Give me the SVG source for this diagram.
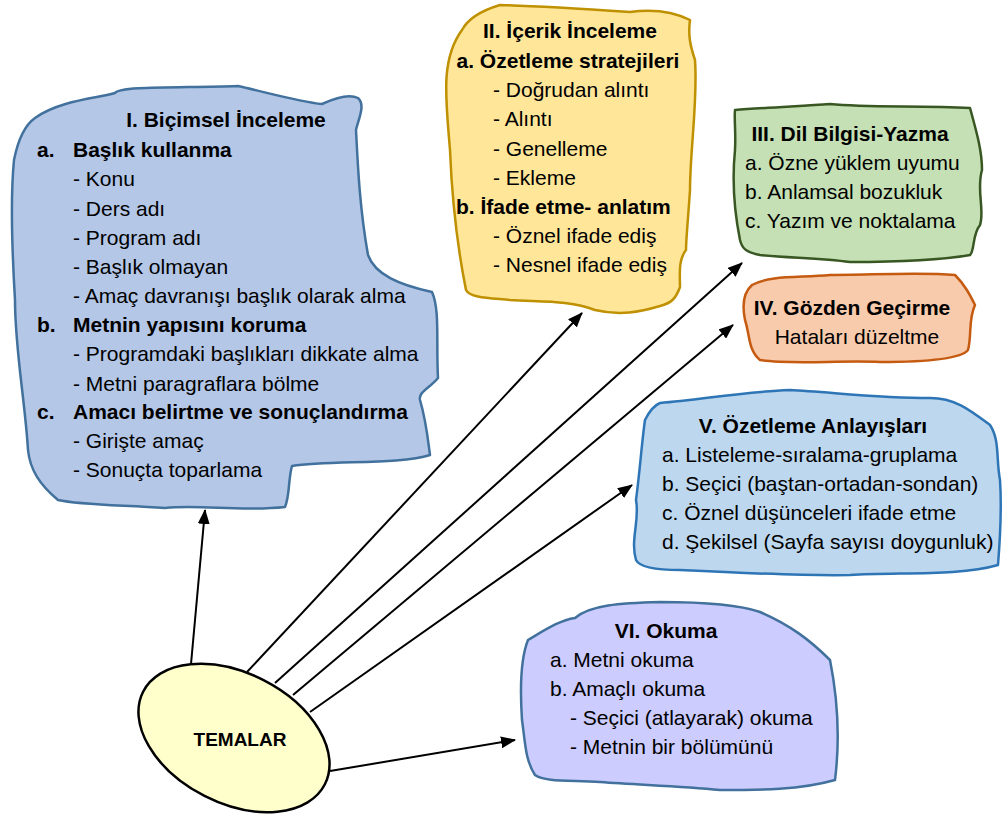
<svg xmlns="http://www.w3.org/2000/svg" width="1003" height="819" viewBox="0 0 1003 819">
<style>
text{font-family:"Liberation Sans",Arial,sans-serif;font-size:21px;fill:#000}
.b{font-weight:bold}
.c{text-anchor:middle}
.blob{stroke-width:2.5;stroke-linejoin:round}
.conn line{stroke:#000;stroke-width:2;marker-end:url(#ah)}
</style>
<defs>
<marker id="ah" markerUnits="userSpaceOnUse" markerWidth="15" markerHeight="12" viewBox="0 0 15 12" refX="14" refY="6" orient="auto">
<path d="M0,0 L15,6 L0,12 z" fill="#000"/>
</marker>
</defs>
<rect width="1003" height="819" fill="#fff"/>
<g id="node-I">
<path class="blob" fill="#b4c7e7" stroke="#41719c" d="M35,118 C60,100 100,98 115,93 C120,86 180,88 238,86 C265,92 300,102 322,104 C335,98 350,94 358,98 C366,105 358,120 356,130 C358,170 360,210 368,255 C375,275 400,285 432,292 C440,310 436,340 438,378 C430,388 418,392 420,400 C426,420 428,440 430,455 C400,465 330,460 292,466 C288,480 290,495 285,507 C240,512 200,504 165,508 C120,505 80,505 58,500 C40,485 30,470 28,450 C25,400 15,350 15,300 C12,250 10,200 14,160 C18,140 25,125 35,118 Z"/>
<text class="b c" x="226" y="127">I. Biçimsel İnceleme</text>
<text class="b" x="37" y="157">a.</text><text class="b" x="73" y="157">Başlık kullanma</text>
<text x="73" y="186">- Konu</text>
<text x="73" y="216">- Ders adı</text>
<text x="73" y="245">- Program adı</text>
<text x="73" y="274">- Başlık olmayan</text>
<text x="73" y="303">- Amaç davranışı başlık olarak alma</text>
<text class="b" x="37" y="332">b.</text><text class="b" x="73" y="332">Metnin yapısını koruma</text>
<text x="73" y="361">- Programdaki başlıkları dikkate alma</text>
<text x="73" y="391">- Metni paragraflara bölme</text>
<text class="b" x="37" y="419">c.</text><text class="b" x="73" y="419">Amacı belirtme ve sonuçlandırma</text>
<text x="73" y="448">- Girişte amaç</text>
<text x="73" y="477">- Sonuçta toparlama</text>
</g>
<g id="node-II">
<path class="blob" fill="#ffe699" stroke="#bf9000" d="M462,30 C470,15 490,8 500,5 C540,6 600,10 630,12 C660,8 680,15 690,20 C688,35 690,45 695,60 C698,100 690,150 690,190 C688,220 686,240 686,250 C678,260 680,275 680,287 C676,298 672,303 660,306 C640,312 620,316 595,310 C570,300 540,302 510,300 C490,298 470,298 466,290 C458,250 452,200 450,150 C446,100 440,60 462,30 Z"/>
<text class="b c" x="570" y="38">II. İçerik İnceleme</text>
<text class="b c" x="568" y="68">a. Özetleme stratejileri</text>
<text x="493" y="97">- Doğrudan alıntı</text>
<text x="493" y="126">- Alıntı</text>
<text x="493" y="156">- Genelleme</text>
<text x="493" y="185">- Ekleme</text>
<text class="b" x="456" y="214">b. İfade etme- anlatım</text>
<text x="493" y="243">- Öznel ifade ediş</text>
<text x="493" y="272">- Nesnel ifade ediş</text>
</g>
<g id="node-III">
<path class="blob" fill="#c5e0b4" stroke="#385723" d="M735,110 C760,108 800,106 830,104 C870,108 920,105 970,108 C976,130 982,150 982,170 C976,190 985,210 980,225 C972,235 975,250 970,255 C930,262 880,262 850,262 C820,258 790,258 760,255 C745,252 742,248 740,240 C734,210 732,180 735,150 C736,130 734,120 735,110 Z"/>
<text class="b c" x="850" y="141">III. Dil Bilgisi-Yazma</text>
<text x="745" y="170">a. Özne yüklem uyumu</text>
<text x="745" y="199">b. Anlamsal bozukluk</text>
<text x="745" y="228">c. Yazım ve noktalama</text>
</g>
<g id="node-IV">
<path class="blob" fill="#f8cbad" stroke="#c55a11" d="M752,285 C770,275 800,278 830,275 C870,275 920,272 955,275 C965,285 970,295 975,305 C968,320 972,335 968,350 C960,360 920,362 880,362 C840,360 790,365 760,360 C748,350 750,335 745,320 C742,305 744,292 752,285 Z"/>
<text class="b c" x="852" y="315">IV. Gözden Geçirme</text>
<text class="c" x="857" y="344">Hataları düzeltme</text>
</g>
<g id="node-V">
<path class="blob" fill="#bdd7ee" stroke="#2e75b6" d="M660,403 C700,400 740,392 790,390 C830,392 880,398 930,398 C955,398 970,410 990,425 C1000,440 996,460 1000,480 C1002,510 1000,540 998,565 C960,576 900,572 850,575 C800,576 720,572 680,570 C660,570 640,568 636,560 C630,540 640,520 636,500 C640,470 642,440 645,420 C650,410 655,405 660,403 Z"/>
<text class="b c" x="813" y="433">V. Özetleme Anlayışları</text>
<text x="662" y="462">a. Listeleme-sıralama-gruplama</text>
<text x="662" y="491">b. Seçici (baştan-ortadan-sondan)</text>
<text x="662" y="520">c. Öznel düşünceleri ifade etme</text>
<text x="662" y="549">d. Şekilsel (Sayfa sayısı doygunluk)</text>
</g>
<g id="node-VI">
<path class="blob" fill="#ccccff" stroke="#41719c" d="M528,640 C545,630 560,620 575,618 C590,605 620,603 660,602 C700,602 740,605 760,612 C790,625 810,640 830,660 C838,700 840,740 835,780 C800,790 760,790 720,790 C680,786 640,785 600,782 C570,780 545,782 535,775 C525,760 525,740 522,720 C520,690 520,660 528,640 Z"/>
<text class="b c" x="666" y="638">VI. Okuma</text>
<text x="550" y="667">a. Metni okuma</text>
<text x="550" y="696">b. Amaçlı okuma</text>
<text x="570" y="725">- Seçici (atlayarak) okuma</text>
<text x="570" y="754">- Metnin bir bölümünü</text>
</g>
<g id="connectors" class="conn">
<line x1="191" y1="664" x2="205" y2="510"/>
<line x1="247" y1="672" x2="582" y2="313"/>
<line x1="275" y1="683" x2="742" y2="263"/>
<line x1="293" y1="695" x2="733" y2="325"/>
<line x1="310" y1="712" x2="632" y2="485"/>
<line x1="330" y1="771" x2="515" y2="740"/>
</g>
<g id="node-TEMALAR">
<ellipse cx="234" cy="738" rx="102" ry="65" transform="rotate(27 234 738)" fill="#ffffcc" stroke="#000" stroke-width="2.5"/>
<text class="b c" x="240" y="746" style="font-size:19px">TEMALAR</text>
</g>
</svg>
